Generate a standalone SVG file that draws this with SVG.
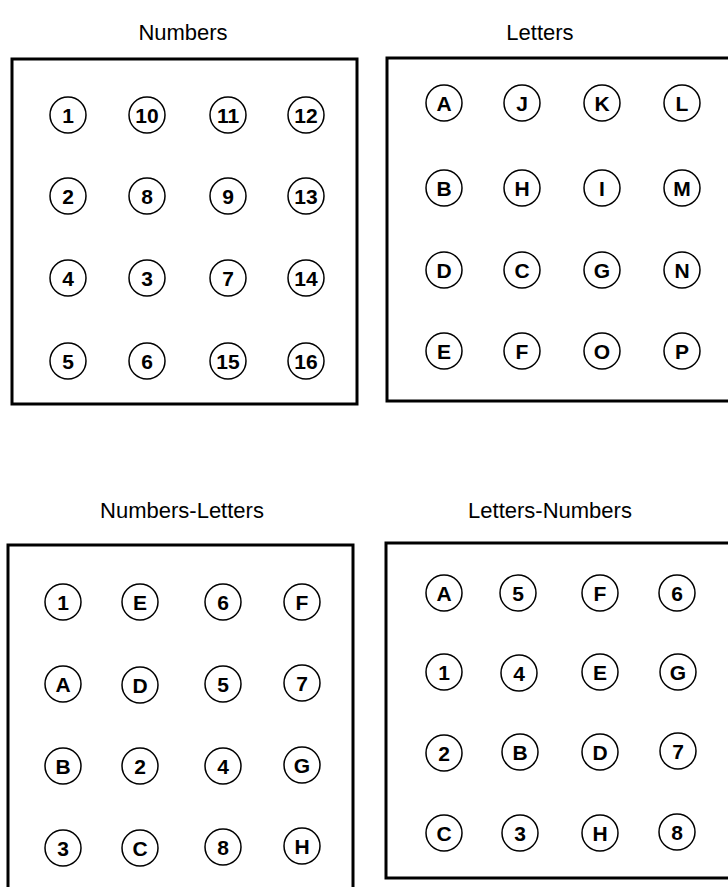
<svg xmlns="http://www.w3.org/2000/svg" width="728" height="887" viewBox="0 0 728 887">
<style>
.bg{fill:#fff}
.panel{fill:none;stroke:#000;stroke-width:3}
.node circle{fill:#fff;stroke:#000;stroke-width:1.5}
.node text{font-family:"Liberation Sans",Arial,sans-serif;font-size:21px;font-weight:bold;text-anchor:middle;fill:#000}
.title{font-family:"Liberation Sans",Arial,sans-serif;font-size:22px;text-anchor:middle;fill:#000}
</style>
<rect class="bg" x="0" y="0" width="728" height="887"/>
<g id="connectors"/>

<g id="panel-numbers">
<text class="title" x="183" y="40">Numbers</text>
<rect class="panel" x="12" y="59" width="345" height="345"/>
<g id="n1" class="node"><circle cx="68" cy="115" r="18"/><text x="68" y="123">1</text></g>
<g id="n10" class="node"><circle cx="147" cy="115" r="18"/><text x="147" y="123">10</text></g>
<g id="n11" class="node"><circle cx="228" cy="115" r="18"/><text x="228" y="123">11</text></g>
<g id="n12" class="node"><circle cx="306" cy="115" r="18"/><text x="306" y="123">12</text></g>
<g id="n2" class="node"><circle cx="68" cy="196" r="18"/><text x="68" y="204">2</text></g>
<g id="n8" class="node"><circle cx="147" cy="196" r="18"/><text x="147" y="204">8</text></g>
<g id="n9" class="node"><circle cx="228" cy="196" r="18"/><text x="228" y="204">9</text></g>
<g id="n13" class="node"><circle cx="306" cy="196" r="18"/><text x="306" y="204">13</text></g>
<g id="n4" class="node"><circle cx="68" cy="278" r="18"/><text x="68" y="286">4</text></g>
<g id="n3" class="node"><circle cx="147" cy="278" r="18"/><text x="147" y="286">3</text></g>
<g id="n7" class="node"><circle cx="228" cy="278" r="18"/><text x="228" y="286">7</text></g>
<g id="n14" class="node"><circle cx="306" cy="278" r="18"/><text x="306" y="286">14</text></g>
<g id="n5" class="node"><circle cx="68" cy="361" r="18"/><text x="68" y="369">5</text></g>
<g id="n6" class="node"><circle cx="147" cy="361" r="18"/><text x="147" y="369">6</text></g>
<g id="n15" class="node"><circle cx="228" cy="361" r="18"/><text x="228" y="369">15</text></g>
<g id="n16" class="node"><circle cx="306" cy="361" r="18"/><text x="306" y="369">16</text></g>
</g>

<g id="panel-letters">
<text class="title" x="540" y="40">Letters</text>
<rect class="panel" x="387" y="58" width="360" height="343"/>
<g id="lA" class="node"><circle cx="444" cy="103" r="18"/><text x="444" y="111">A</text></g>
<g id="lJ" class="node"><circle cx="522" cy="103" r="18"/><text x="522" y="111">J</text></g>
<g id="lK" class="node"><circle cx="602" cy="103" r="18"/><text x="602" y="111">K</text></g>
<g id="lL" class="node"><circle cx="682" cy="103" r="18"/><text x="682" y="111">L</text></g>
<g id="lB" class="node"><circle cx="444" cy="188" r="18"/><text x="444" y="196">B</text></g>
<g id="lH" class="node"><circle cx="522" cy="188" r="18"/><text x="522" y="196">H</text></g>
<g id="lI" class="node"><circle cx="602" cy="188" r="18"/><text x="602" y="196">I</text></g>
<g id="lM" class="node"><circle cx="682" cy="188" r="18"/><text x="682" y="196">M</text></g>
<g id="lD" class="node"><circle cx="444" cy="270" r="18"/><text x="444" y="278">D</text></g>
<g id="lC" class="node"><circle cx="522" cy="270" r="18"/><text x="522" y="278">C</text></g>
<g id="lG" class="node"><circle cx="602" cy="270" r="18"/><text x="602" y="278">G</text></g>
<g id="lN" class="node"><circle cx="682" cy="270" r="18"/><text x="682" y="278">N</text></g>
<g id="lE" class="node"><circle cx="444" cy="351" r="18"/><text x="444" y="359">E</text></g>
<g id="lF" class="node"><circle cx="522" cy="351" r="18"/><text x="522" y="359">F</text></g>
<g id="lO" class="node"><circle cx="602" cy="351" r="18"/><text x="602" y="359">O</text></g>
<g id="lP" class="node"><circle cx="682" cy="351" r="18"/><text x="682" y="359">P</text></g>
</g>

<g id="panel-numbers-letters">
<text class="title" x="182" y="518">Numbers-Letters</text>
<rect class="panel" x="8" y="545" width="345" height="350"/>
<g id="nl1" class="node"><circle cx="63" cy="602" r="18"/><text x="63" y="610">1</text></g>
<g id="nlE" class="node"><circle cx="140" cy="602" r="18"/><text x="140" y="610">E</text></g>
<g id="nl6" class="node"><circle cx="223" cy="602" r="18"/><text x="223" y="610">6</text></g>
<g id="nlF" class="node"><circle cx="302" cy="602" r="18"/><text x="302" y="610">F</text></g>
<g id="nlA" class="node"><circle cx="63" cy="684" r="18"/><text x="63" y="692">A</text></g>
<g id="nlD" class="node"><circle cx="140" cy="685" r="18"/><text x="140" y="693">D</text></g>
<g id="nl5" class="node"><circle cx="223" cy="684" r="18"/><text x="223" y="692">5</text></g>
<g id="nl7" class="node"><circle cx="302" cy="683" r="18"/><text x="302" y="691">7</text></g>
<g id="nlB" class="node"><circle cx="63" cy="766" r="18"/><text x="63" y="774">B</text></g>
<g id="nl2" class="node"><circle cx="140" cy="766" r="18"/><text x="140" y="774">2</text></g>
<g id="nl4" class="node"><circle cx="223" cy="766" r="18"/><text x="223" y="774">4</text></g>
<g id="nlG" class="node"><circle cx="302" cy="765" r="18"/><text x="302" y="773">G</text></g>
<g id="nl3" class="node"><circle cx="63" cy="848" r="18"/><text x="63" y="856">3</text></g>
<g id="nlC" class="node"><circle cx="140" cy="848" r="18"/><text x="140" y="856">C</text></g>
<g id="nl8" class="node"><circle cx="223" cy="847" r="18"/><text x="223" y="855">8</text></g>
<g id="nlH" class="node"><circle cx="302" cy="846" r="18"/><text x="302" y="854">H</text></g>
</g>

<g id="panel-letters-numbers">
<text class="title" x="550" y="518">Letters-Numbers</text>
<rect class="panel" x="386" y="543" width="360" height="335"/>
<g id="lnA" class="node"><circle cx="444" cy="593" r="18"/><text x="444" y="601">A</text></g>
<g id="ln5" class="node"><circle cx="518" cy="593" r="18"/><text x="518" y="601">5</text></g>
<g id="lnF" class="node"><circle cx="600" cy="593" r="18"/><text x="600" y="601">F</text></g>
<g id="ln6" class="node"><circle cx="677" cy="593" r="18"/><text x="677" y="601">6</text></g>
<g id="ln1" class="node"><circle cx="444" cy="672" r="18"/><text x="444" y="680">1</text></g>
<g id="ln4" class="node"><circle cx="519" cy="673" r="18"/><text x="519" y="681">4</text></g>
<g id="lnE" class="node"><circle cx="600" cy="672" r="18"/><text x="600" y="680">E</text></g>
<g id="lnG" class="node"><circle cx="678" cy="672" r="18"/><text x="678" y="680">G</text></g>
<g id="ln2" class="node"><circle cx="444" cy="753" r="18"/><text x="444" y="761">2</text></g>
<g id="lnB" class="node"><circle cx="520" cy="752" r="18"/><text x="520" y="760">B</text></g>
<g id="lnD" class="node"><circle cx="600" cy="752" r="18"/><text x="600" y="760">D</text></g>
<g id="ln7" class="node"><circle cx="678" cy="751" r="18"/><text x="678" y="759">7</text></g>
<g id="lnC" class="node"><circle cx="444" cy="833" r="18"/><text x="444" y="841">C</text></g>
<g id="ln3" class="node"><circle cx="520" cy="833" r="18"/><text x="520" y="841">3</text></g>
<g id="lnH" class="node"><circle cx="600" cy="833" r="18"/><text x="600" y="841">H</text></g>
<g id="ln8" class="node"><circle cx="677" cy="832" r="18"/><text x="677" y="840">8</text></g>
</g>
</svg>
